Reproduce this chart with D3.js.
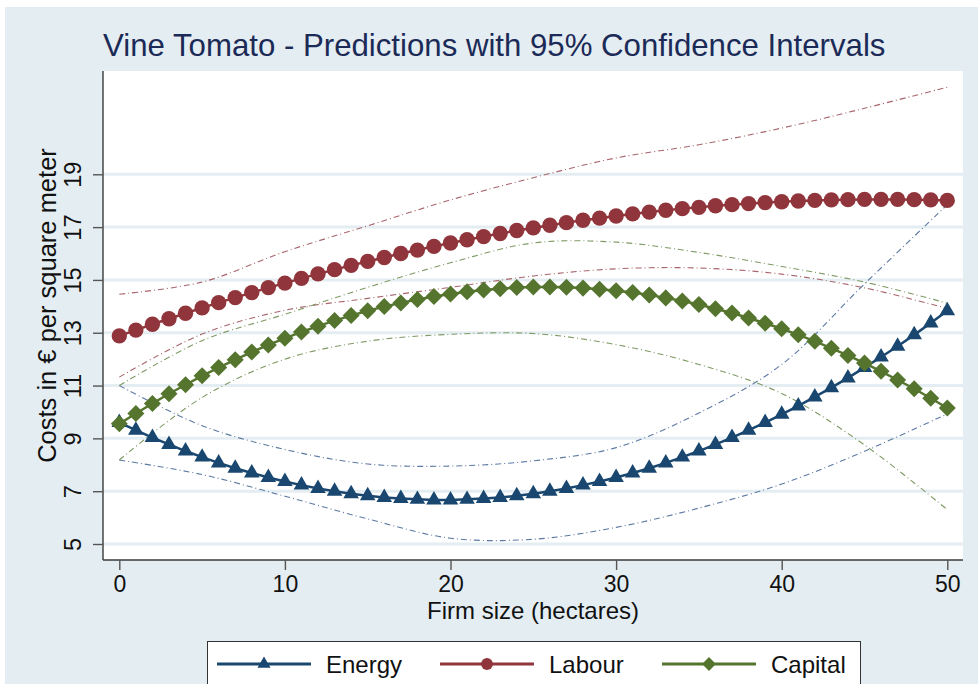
<!DOCTYPE html>
<html>
<head>
<meta charset="utf-8">
<script src="https://cdn.jsdelivr.net/npm/d3@7"></script>
<style>
  html, body { margin: 0; padding: 0; background: #ffffff; }
  svg { display: block; font-family: "Liberation Sans", Arial, sans-serif; }
</style>
</head>
<body>
<svg id="chart" width="978" height="684"></svg>
<script>
// Firm sizes (hectares) at which predictions are plotted
const firmSize = [0,1,2,3,4,5,6,7,8,9,10,11,12,13,14,15,16,17,18,19,20,
  21,22,23,24,25,26,27,28,29,30,31,32,33,34,35,36,37,38,39,40,
  41,42,43,44,45,46,47,48,49,50];

// Predicted costs (€ per square meter)
const energy = [9.60,9.31,9.03,8.77,8.52,8.29,8.07,7.87,7.69,7.52,7.37,
  7.23,7.10,7.00,6.90,6.83,6.76,6.72,6.69,6.67,6.67,
  6.69,6.72,6.76,6.83,6.90,7.00,7.10,7.23,7.37,7.52,
  7.69,7.87,8.07,8.29,8.52,8.77,9.03,9.31,9.60,9.91,
  10.23,10.57,10.92,11.29,11.68,12.08,12.49,12.92,13.37,13.83];
const labour = [12.88,13.10,13.32,13.53,13.74,13.94,14.14,14.33,14.52,14.71,14.88,
  15.06,15.23,15.39,15.55,15.70,15.85,16.00,16.13,16.27,16.40,
  16.52,16.64,16.76,16.87,16.97,17.07,17.17,17.26,17.34,17.42,
  17.50,17.57,17.64,17.70,17.75,17.81,17.85,17.89,17.93,17.96,
  17.99,18.01,18.03,18.04,18.05,18.05,18.05,18.04,18.03,18.01];
const capital = [9.55,9.94,10.32,10.69,11.03,11.37,11.68,11.98,12.27,12.54,12.79,
  13.03,13.25,13.46,13.65,13.83,13.99,14.13,14.26,14.37,14.47,
  14.55,14.62,14.67,14.71,14.73,14.73,14.72,14.69,14.65,14.59,
  14.52,14.43,14.32,14.20,14.07,13.91,13.75,13.56,13.36,13.15,
  12.92,12.68,12.41,12.14,11.85,11.54,11.21,10.88,10.52,10.15];

// 95% confidence bounds
const ciSize = [0,5,10,15,20,25,30,35,40,45,50];
const energyLo  = [8.18,7.63,6.81,5.95,5.22,5.18,5.63,6.36,7.27,8.51,9.93];
const energyHi  = [11.00,9.48,8.58,8.03,7.95,8.15,8.65,9.96,11.80,14.85,17.85];
const labourLo  = [11.32,12.95,13.85,14.30,14.72,15.15,15.42,15.45,15.22,14.70,13.92];
const labourHi  = [14.46,14.92,16.07,17.05,18.03,18.87,19.62,20.12,20.75,21.50,22.30];
const capitalLo = [8.18,10.55,12.00,12.68,12.94,12.97,12.55,11.80,10.70,8.75,6.30];
const capitalHi = [11.00,12.70,13.70,14.72,15.65,16.40,16.43,16.04,15.51,14.92,14.12];

// Axis ticks
const xTicks = [0,10,20,30,40,50];
const yTicks = [5,7,9,11,13,15,17,19];

const seriesNames = ["Energy","Labour","Capital"];
const seriesColors = ["#1a476f","#90353b","#55752f"];
const ciColors = ["#5d7aa3","#a8656c","#7f9a64"];

const svg = d3.select("#chart");
const W = 978, H = 684;
const plot = {left: 103, right: 963, top: 71, bottom: 560};

const x = d3.scaleLinear().domain([0, 50]).range([119.3, 947.3]);
const y = d3.scaleLinear().domain([5, 19]).range([544, 174.3]);

// Graph region
svg.append("rect").attr("x", 0).attr("y", 0).attr("width", W).attr("height", H).attr("fill", "#ffffff");
svg.append("rect").attr("x", 5).attr("y", 7).attr("width", W - 5).attr("height", H - 7).attr("fill", "#e4edf1");

// Plot region
svg.append("rect")
  .attr("x", plot.left).attr("y", plot.top)
  .attr("width", plot.right - plot.left).attr("height", plot.bottom - plot.top)
  .attr("fill", "#ffffff");

// Horizontal grid
svg.append("g").selectAll("line").data(yTicks).join("line")
  .attr("x1", plot.left).attr("x2", plot.right)
  .attr("y1", d => y(d)).attr("y2", d => y(d))
  .attr("stroke", "#e4edf1").attr("stroke-width", 3);

// Title
svg.append("text")
  .attr("x", 103).attr("y", 56)
  .attr("font-size", 31.2).attr("fill", "#1b2a57")
  .text("Vine Tomato - Predictions with 95% Confidence Intervals");

// Y axis
const yAxis = svg.append("g")
  .attr("transform", `translate(${plot.left},0)`)
  .call(d3.axisLeft(y).tickValues(yTicks).tickSize(10).tickSizeOuter(0).tickFormat(d3.format("d")));
yAxis.select(".domain").attr("d", `M0,${plot.top}V${plot.bottom}`);
yAxis.selectAll("text")
  .attr("x", null).attr("dy", null)
  .attr("transform", "translate(-22,0) rotate(-90)")
  .attr("text-anchor", "middle")
  .attr("font-size", 23.5).attr("fill", "#111").attr("font-family", null);

// X axis
const xAxis = svg.append("g")
  .attr("transform", `translate(0,${plot.bottom})`)
  .call(d3.axisBottom(x).tickValues(xTicks).tickSize(10).tickSizeOuter(0));
xAxis.select(".domain").attr("d", `M${plot.left},0H${plot.right}`);
xAxis.selectAll("text")
  .attr("y", 32).attr("dy", null)
  .attr("font-size", 23).attr("fill", "#111").attr("font-family", null);

[yAxis, xAxis].forEach(a => {
  a.select(".domain").attr("stroke", "#3a3a3a").attr("stroke-width", 1.4);
  a.selectAll(".tick line").attr("stroke", "#555").attr("stroke-width", 1.4);
});

// Axis titles
svg.append("text")
  .attr("x", (plot.left + plot.right) / 2).attr("y", 619)
  .attr("text-anchor", "middle").attr("font-size", 24).attr("fill", "#111")
  .text("Firm size (hectares)");
svg.append("text")
  .attr("transform", `translate(56,305.5) rotate(-90)`)
  .attr("text-anchor", "middle").attr("font-size", 25.5).attr("fill", "#111")
  .text("Costs in € per square meter");

// Confidence bounds
const ciLine = d3.line()
  .x((d, i) => x(ciSize[i]))
  .y(d => y(d))
  .curve(d3.curveCatmullRom.alpha(0.5));
const ciSets = [[energyLo, energyHi], [labourLo, labourHi], [capitalLo, capitalHi]];
const ciG = svg.append("g");
ciSets.forEach((pair, s) => {
  pair.forEach(vals => {
    ciG.append("path")
      .attr("d", ciLine(vals))
      .attr("fill", "none")
      .attr("stroke", ciColors[s])
      .attr("stroke-width", 1.1)
      .attr("stroke-dasharray", "6,3,1,3");
  });
});

// Prediction series
const series = [energy, labour, capital];
const symbols = [
  d3.symbol().type(d3.symbolTriangle).size(105),
  d3.symbol().type(d3.symbolCircle).size(185),
  d3.symbol().type(d3.symbolSquare).size(145)
];
const symbolRot = [0, 0, 45];
const line = d3.line().x((d, i) => x(firmSize[i])).y(d => y(d));

series.forEach((vals, s) => {
  const g = svg.append("g");
  g.append("path")
    .attr("d", line(vals))
    .attr("fill", "none")
    .attr("stroke", seriesColors[s])
    .attr("stroke-width", 2.5);
  g.selectAll("path.mk").data(vals).join("path")
    .attr("class", "mk")
    .attr("d", symbols[s]())
    .attr("transform", (d, i) => `translate(${x(firmSize[i])},${y(d)}) rotate(${symbolRot[s]})`)
    .attr("fill", seriesColors[s]);
});

// Legend
const lg = svg.append("g");
lg.append("rect")
  .attr("x", 207.5).attr("y", 641.5).attr("width", 653).attr("height", 60)
  .attr("fill", "#ffffff").attr("stroke", "#333").attr("stroke-width", 1);
const legendX = [217, 440, 662];
const legendSymbols = [
  d3.symbol().type(d3.symbolTriangle).size(75),
  d3.symbol().type(d3.symbolCircle).size(110),
  d3.symbol().type(d3.symbolSquare).size(95)
];
seriesNames.forEach((name, s) => {
  const lx = legendX[s], ly = 664;
  lg.append("line")
    .attr("x1", lx).attr("x2", lx + 94).attr("y1", ly).attr("y2", ly)
    .attr("stroke", seriesColors[s]).attr("stroke-width", 3);
  lg.append("path")
    .attr("d", legendSymbols[s]())
    .attr("transform", `translate(${lx + 47},${ly}) rotate(${symbolRot[s]})`)
    .attr("fill", seriesColors[s]);
  lg.append("text")
    .attr("x", lx + 109).attr("y", ly + 8.5)
    .attr("font-size", 24).attr("fill", "#111")
    .text(name);
});
</script>
</body>
</html>
